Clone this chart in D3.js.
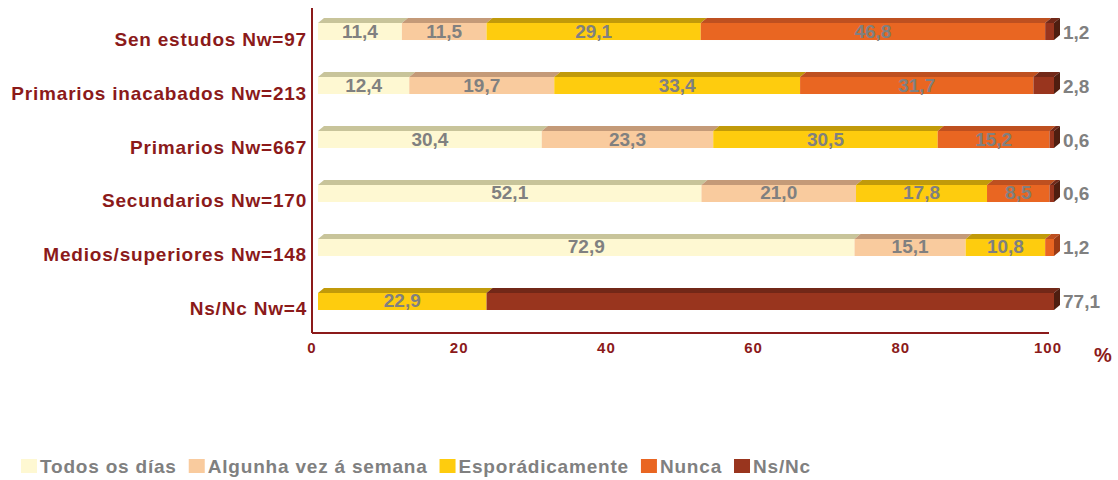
<!DOCTYPE html>
<html lang="es">
  <head>
    <meta charset="UTF-8" />
    <title>Nivel de estudos</title>
    <style>
      body { margin: 0; background: #fff; }
      text { font-family: "Liberation Sans", Arial, sans-serif; font-weight: bold; }
    </style>
  </head>
  <body>
    <svg width="1118" height="480"></svg>
    <script src="https://d3js.org/d3.v7.min.js"></script>
    <script>
      // data
      var categories = ["Sen estudos Nw=97", "Primarios inacabados Nw=213", "Primarios Nw=667",
                        "Secundarios Nw=170", "Medios/superiores Nw=148", "Ns/Nc Nw=4"];
      var series = ["Todos os días", "Algunha vez á semana", "Esporádicamente", "Nunca", "Ns/Nc"];
      var todos      = [11.4, 12.4, 30.4, 52.1, 72.9, 0];
      var algunha    = [11.5, 19.7, 23.3, 21.0, 15.1, 0];
      var esporadica = [29.1, 33.4, 30.5, 17.8, 10.8, 22.9];
      var nunca      = [46.8, 31.7, 15.2, 8.5, 1.2, 0];
      var nsnc       = [1.2, 2.8, 0.6, 0.6, 0, 77.1];
      var ticks = [0, 20, 40, 60, 80, 100];

      var front = ["#fef8d2", "#f9cb9e", "#fecc0e", "#e96622", "#99351e"];
      var topc  = ["#c8c49a", "#c49a78", "#c19a0a", "#be5020", "#722818"];
      var side  = ["#9a9670", "#9a7458", "#8e7208", "#9a3a14", "#4f1e10"];

      var axisColor = "#8b1a1a", labelGray = "#808080";
      var dx = 6, dy = 5;

      var svg = d3.select("svg");

      var x = d3.scaleLinear().domain([0, 100]).range([318, 1054]);
      var y = d3.scaleBand().domain(categories).range([23, 310]).paddingInner(0.685).paddingOuter(0);
      var bh = y.bandwidth();

      var rows = categories.map(function(c, i) {
        var vals = [todos[i], algunha[i], esporadica[i], nunca[i], nsnc[i]];
        var acc = 0, segs = [];
        vals.forEach(function(v, k) {
          segs.push({ k: k, v: v, x0: acc, x1: acc + v });
          acc += v;
        });
        var nz = segs.filter(function(s) { return s.v > 0; });
        return { cat: c, segs: nz, last: nz[nz.length - 1] };
      });

      // axes lines
      svg.append("line").attr("x1", 312).attr("x2", 312).attr("y1", 8).attr("y2", 333)
        .attr("stroke", axisColor).attr("stroke-width", 2);
      svg.append("line").attr("x1", 312).attr("x2", 1049).attr("y1", 333).attr("y2", 333)
        .attr("stroke", axisColor).attr("stroke-width", 2);

      // tick labels
      svg.selectAll(".tick").data(ticks).enter().append("text")
        .attr("x", function(d) { return x(d) - 6; })
        .attr("y", 353)
        .attr("text-anchor", "middle")
        .attr("fill", axisColor)
        .attr("font-size", 15)
        .style("letter-spacing", "1px")
        .text(function(d) { return d; });
      svg.append("text").attr("x", 1103).attr("y", 362).attr("text-anchor", "middle")
        .attr("fill", axisColor).attr("font-size", 20).text("%");

      // category labels
      svg.selectAll(".cat").data(categories).enter().append("text")
        .attr("x", 307)
        .attr("y", function(d) { return y(d) + bh / 2 + 14; })
        .attr("text-anchor", "end")
        .attr("fill", axisColor)
        .attr("font-size", 19)
        .style("letter-spacing", "0.8px")
        .text(function(d) { return d; });

      var fmt = function(v) { return v.toFixed(1).replace(".", ","); };

      rows.forEach(function(r) {
        var g = svg.append("g");
        var y0 = y(r.cat);
        r.segs.forEach(function(s) {
          var xa = x(s.x0), xb = x(s.x1);
          // top face
          g.append("path")
            .attr("d", "M" + xa + "," + y0 + "L" + (xa + dx) + "," + (y0 - dy) +
                       "L" + (xb + dx) + "," + (y0 - dy) + "L" + xb + "," + y0 + "Z")
            .attr("fill", topc[s.k]);
          // front face
          g.append("rect").attr("x", xa).attr("y", y0).attr("width", xb - xa).attr("height", bh)
            .attr("fill", front[s.k]);
        });
        // end cap
        var xe = x(r.last.x1);
        g.append("path")
          .attr("d", "M" + xe + "," + y0 + "L" + (xe + dx) + "," + (y0 - dy) +
                     "L" + (xe + dx) + "," + (y0 + bh - dy) + "L" + xe + "," + (y0 + bh) + "Z")
          .attr("fill", side[r.last.k]);
        // labels inside
        r.segs.forEach(function(s) {
          if (s === r.last) return;
          g.append("text")
            .attr("x", (x(s.x0) + x(s.x1)) / 2)
            .attr("y", y0 + bh / 2 + 6)
            .attr("text-anchor", "middle")
            .attr("fill", labelGray)
            .attr("font-size", 19)
            .text(fmt(s.v));
        });
        // outside label
        g.append("text")
          .attr("x", 1063)
          .attr("y", y0 + bh / 2 + 7)
          .attr("fill", labelGray)
          .attr("font-size", 19)
          .text(fmt(r.last.v));
      });

      // legend
      var lx = 21;
      series.forEach(function(s, k) {
        svg.append("rect").attr("x", lx).attr("y", 459).attr("width", 16).attr("height", 14)
          .attr("fill", front[k]);
        var t = svg.append("text").attr("x", lx + 19).attr("y", 473)
          .attr("fill", labelGray).attr("font-size", 19)
          .style("letter-spacing", "0.8px")
          .text(s);
        lx += 19 + t.node().getComputedTextLength() + 12;
      });
    </script>
  </body>
</html>
